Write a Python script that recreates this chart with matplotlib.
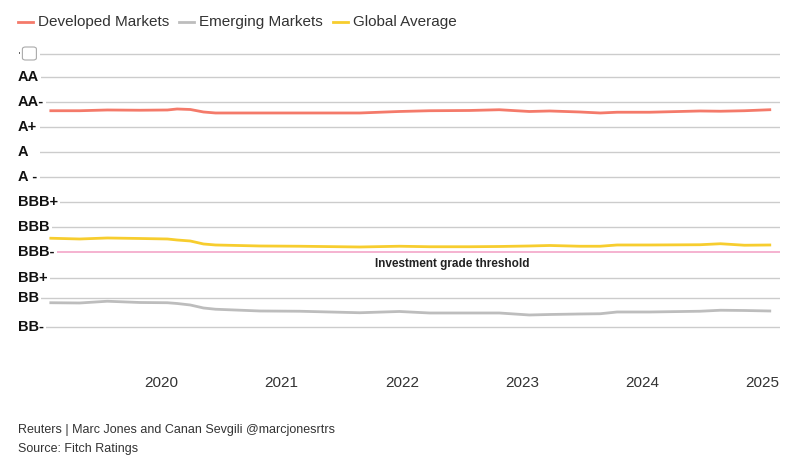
import matplotlib
matplotlib.use("Agg")
import matplotlib.pyplot as plt
from matplotlib.lines import Line2D
from matplotlib.patches import FancyBboxPatch
from matplotlib.transforms import blended_transform_factory

plt.rcParams['font.family'] = ['Liberation Sans', 'DejaVu Sans']

# decimal years of the readings
dates = [2019.08, 2019.32, 2019.55, 2019.82, 2020.05, 2020.13, 2020.24, 2020.35,
         2020.45, 2020.82, 2021.15, 2021.65, 2021.98, 2022.23, 2022.56, 2022.81,
         2023.06, 2023.23, 2023.48, 2023.65, 2023.79, 2024.06, 2024.48, 2024.65,
         2024.85, 2025.06]
developed = [8.64, 8.64, 8.67, 8.66, 8.67, 8.71, 8.69, 8.59, 8.55, 8.55, 8.55, 8.55,
             8.61, 8.64, 8.65, 8.68, 8.61, 8.63, 8.59, 8.55, 8.58, 8.58, 8.63, 8.62,
             8.64, 8.68]
emerging = [0.96, 0.95, 1.02, 0.97, 0.96, 0.93, 0.87, 0.75, 0.70, 0.63, 0.62, 0.56,
            0.61, 0.55, 0.55, 0.55, 0.47, 0.49, 0.51, 0.52, 0.59, 0.59, 0.62, 0.66,
            0.65, 0.63]
global_avg = [3.54, 3.51, 3.55, 3.53, 3.51, 3.47, 3.43, 3.31, 3.27, 3.23, 3.22, 3.19,
              3.22, 3.20, 3.20, 3.21, 3.23, 3.25, 3.22, 3.22, 3.27, 3.27, 3.28, 3.32,
              3.26, 3.27]

ratings = ["", "AA", "AA-", "A+", "A", "A -", "BBB+", "BBB", "BBB-", "BB+", "BB", "BB-"]
rating_pos = [10.91, 10.0, 8.99, 8.0, 6.98, 5.98, 4.98, 3.98, 3.0, 1.94, 1.14, 0.0]
threshold = 3.0
years = [2020, 2021, 2022, 2023, 2024, 2025]

red = "#f47a6a"
grey = "#bdbdbd"
yellow = "#f7cd2e"

fig = plt.figure(figsize=(8, 4.75), dpi=100)
ax = fig.add_axes([0.05, 0.2316, 0.925, 0.6737])

for p in rating_pos:
    if p != threshold:
        ax.axhline(p, color="#cccccc", lw=1, zorder=1)
ax.axhline(threshold, color="#f4a6c8", lw=1.2, zorder=2)

ax.plot(dates, developed, color=red, lw=2, zorder=3)
ax.plot(dates, emerging, color=grey, lw=2, zorder=3)
ax.plot(dates, global_avg, color=yellow, lw=2, zorder=3)

ax.set_xlim(2018.99, 2025.145)
ax.set_ylim(-1.53, 11.27)
ax.set_xticks(years)
ax.set_xticklabels([str(y) for y in years], fontsize=11, color="#333333")
ax.tick_params(axis="x", length=0, pad=8)
ax.set_yticks([])
for s in ax.spines.values():
    s.set_visible(False)

ax.text(2022.42, threshold - 0.5, "Investment grade threshold", ha="center", va="center",
        fontsize=8.5, fontweight="bold", color="#222222")

# rating labels sit on top of the grid lines
tr = blended_transform_factory(fig.transFigure, ax.transData)
for lab, p in zip(ratings, rating_pos):
    if lab == "":
        continue
    ax.text(0.0225, p, lab, transform=tr, ha="left", va="center", fontsize=10.5,
            fontweight="bold", color="#111111", zorder=5,
            bbox=dict(boxstyle="square,pad=0.15", fc="white", ec="none"))

# empty box on the top row
box = FancyBboxPatch((0.028, 1 - 60 / 475), 14 / 800, 13 / 475,
                     boxstyle="round,pad=0,rounding_size=0.004",
                     transform=fig.transFigure, fc="white", ec="#aaaaaa", lw=0.8)
fig.patches.append(box)
fig.patches.append(FancyBboxPatch((0.0235, 1 - 54 / 475), 1 / 800, 2 / 475,
                                  boxstyle="square,pad=0", transform=fig.transFigure,
                                  fc="#666666", ec="none"))

# legend
legend_items = [("Developed Markets", red, 18), ("Emerging Markets", grey, 179),
                ("Global Average", yellow, 333)]
for name, c, x0 in legend_items:
    fig.add_artist(Line2D([x0 / 800, (x0 + 15) / 800], [1 - 22 / 475, 1 - 22 / 475],
                          color=c, lw=2, transform=fig.transFigure))
    fig.text((x0 + 20) / 800, 1 - 22 / 475, name, ha="left", va="center",
             fontsize=11, color="#333333")

fig.text(18 / 800, 1 - 430 / 475, "Reuters | Marc Jones and Canan Sevgili @marcjonesrtrs",
         ha="left", va="center", fontsize=9, color="#333333")
fig.text(18 / 800, 1 - 449 / 475, "Source: Fitch Ratings", ha="left", va="center",
         fontsize=9, color="#333333")

fig.savefig("out.png", dpi=100, facecolor="white")
